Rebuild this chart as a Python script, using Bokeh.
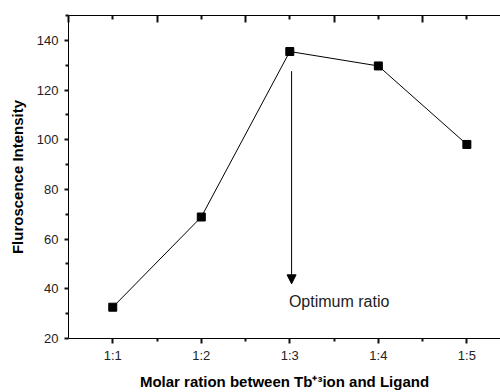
from bokeh.plotting import figure
from bokeh.models import (Range1d, FixedTicker, LinearAxis, Arrow, NormalHead, Label,
                          CustomJSTickFormatter)
from bokeh.embed import file_html
from bokeh.resources import INLINE

# ---- data ----
ratio_labels = ["1:1", "1:2", "1:3", "1:4", "1:5"]
ratio_pos = [1, 2, 3, 4, 5]
intensity = [32.6, 68.9, 135.5, 129.7, 98.1]

y_ticks = [20, 40, 60, 80, 100, 120, 140]
y_minor = [30, 50, 70, 90, 110, 130, 150]
x_minor = [1.5, 2.5, 3.5, 4.5]
top_major = [0.5, 1.5, 2.5, 3.5, 4.5, 5.5]
top_minor = [1, 2, 3, 4, 5]

arrow_x = 3.02
arrow_start = 127.6
arrow_end = 42.0
note_text = "Optimum ratio"
note_x = 2.99
note_y = 35.0

FONT = "Liberation Sans"
TICK_COL = "#111111"
TICK_W = 2

p = figure(width=500, height=392, output_backend="svg", toolbar_location=None,
           x_range=Range1d(0.5, 5.38), y_range=Range1d(20, 150),
           min_border_left=68, min_border_right=0, min_border_top=15,
           min_border_bottom=52)
p.outline_line_color = None
p.xgrid.visible = False
p.ygrid.visible = False

# x axis (bottom)
xa = p.xaxis[0]
xa.ticker = FixedTicker(ticks=ratio_pos, minor_ticks=x_minor)
xa.major_label_overrides = {pos: lab for pos, lab in zip(ratio_pos, ratio_labels)}
xa.axis_label = "Molar ration between Tb\u207a\u00b3ion and Ligand"

# y axis (left)
ya = p.yaxis[0]
ya.ticker = FixedTicker(ticks=y_ticks, minor_ticks=y_minor)
ya.axis_label = "Fluroscence Intensity"

for ax in (xa, ya):
    ax.major_tick_line_color = TICK_COL
    ax.minor_tick_line_color = TICK_COL
    ax.major_tick_line_width = TICK_W
    ax.minor_tick_line_width = TICK_W
    ax.major_tick_in = 0
    ax.minor_tick_in = 0
    ax.major_label_text_font = FONT
    ax.major_label_text_font_size = "13px"
    ax.major_label_text_color = "#222222"
    ax.axis_label_text_font = FONT
    ax.axis_label_text_font_size = "15px"
    ax.axis_label_text_font_style = "bold"
    ax.axis_label_text_color = "black"

xa.major_tick_out = 5
xa.minor_tick_out = 3
xa.major_label_standoff = 4
xa.axis_label_standoff = 7
ya.major_tick_out = 4
ya.minor_tick_out = 3
ya.major_label_standoff = 6
ya.axis_label_standoff = 8

# top mirrored axis, ticks pointing inward, no labels
ta = LinearAxis(ticker=FixedTicker(ticks=top_major, minor_ticks=top_minor),
                formatter=CustomJSTickFormatter(code="return ''"))
ta.major_tick_out = 0
ta.minor_tick_out = 0
ta.major_tick_in = 7
ta.minor_tick_in = 4
ta.major_tick_line_color = TICK_COL
ta.minor_tick_line_color = TICK_COL
ta.major_tick_line_width = TICK_W
ta.minor_tick_line_width = TICK_W
p.add_layout(ta, "above")

# data
p.line(ratio_pos, intensity, line_color="black", line_width=1)
p.scatter(ratio_pos, intensity, marker="square", size=8, fill_color="black",
          line_color="black")

# arrow and note
p.add_layout(Arrow(end=NormalHead(size=9, fill_color="black", line_color="black"),
                   x_start=arrow_x, y_start=arrow_start, x_end=arrow_x, y_end=arrow_end,
                   line_color="black", line_width=1))
p.add_layout(Label(x=note_x, y=note_y, text=note_text, text_font=FONT,
                   text_font_size="16px", text_color="#222222",
                   text_baseline="middle", text_align="left"))

open("out.html", "w").write(file_html(p, INLINE))
